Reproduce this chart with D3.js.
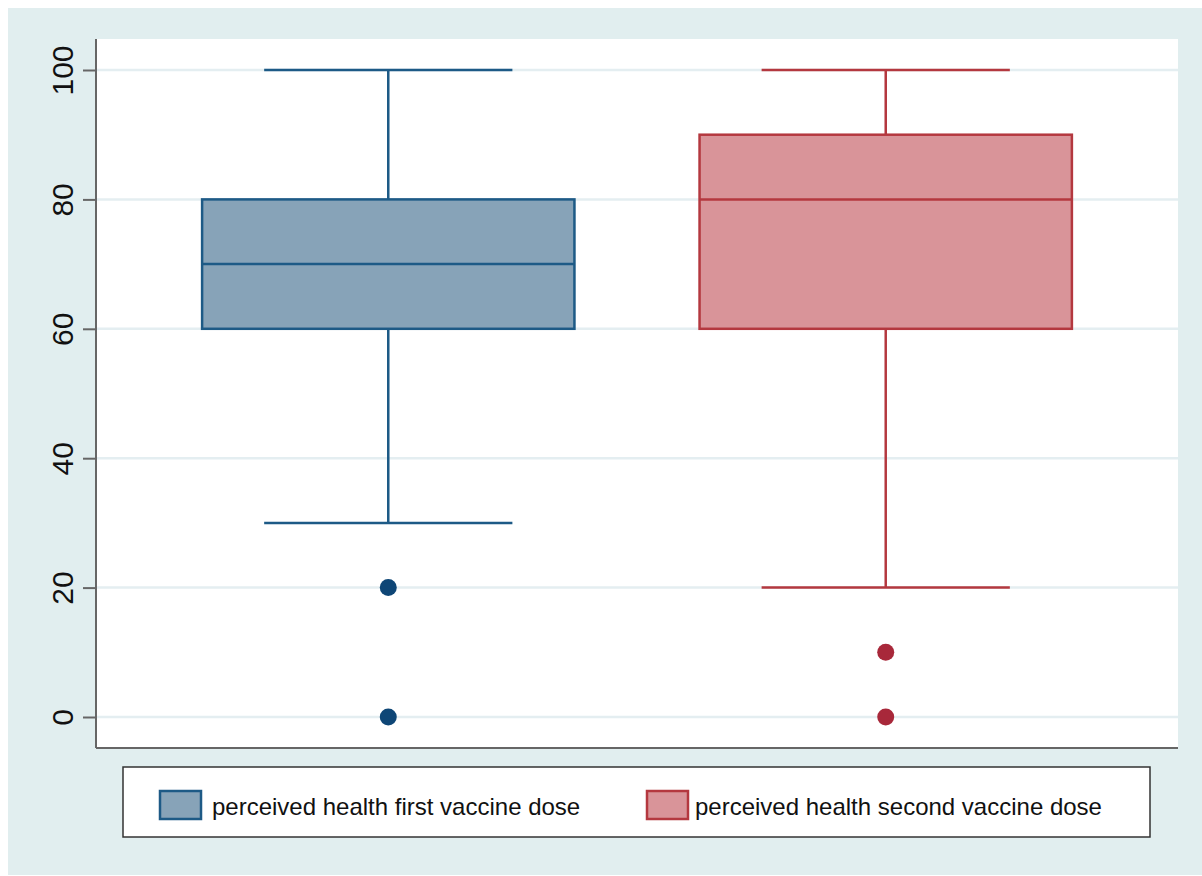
<!DOCTYPE html>
<html><head><meta charset="utf-8">
<script src="https://cdn.jsdelivr.net/npm/d3@7"></script>
<style>html,body{margin:0;padding:0;background:#fff;}svg{display:block;font-family:Arial,"Liberation Sans",sans-serif;}</style>
</head><body>
<svg id="c" width="1202" height="876"></svg>
<script>
const groups = ["perceived health first vaccine dose", "perceived health second vaccine dose"];
const lowerWhisker = [30, 20];
const q1 = [60, 60];
const median = [70, 80];
const q3 = [80, 90];
const upperWhisker = [100, 100];
const outliers = [[20, 0], [10, 0]];
const yTicks = [0, 20, 40, 60, 80, 100];

const fills = ["#87a3b8", "#d99499"];
const strokes = ["#1d5a86", "#b4383f"];
const dots = ["#0e4676", "#a8283a"];

const svg = d3.select("#c");
svg.append("rect").attr("x", 8).attr("y", 8).attr("width", 1194).attr("height", 867).attr("fill", "#e1eeef");

const plot = {l: 96, t: 39, r: 1178, b: 748};
svg.append("rect").attr("x", plot.l).attr("y", plot.t).attr("width", plot.r - plot.l).attr("height", plot.b - plot.t).attr("fill", "#fff");

const y = d3.scaleLinear().domain([0, 100]).range([717, 70]);
const x = d3.scaleBand().domain(groups).range([plot.l, plot.r]).paddingInner(0.2515).paddingOuter(0.2133);

// grid
svg.append("g").selectAll("line").data(yTicks).join("line")
  .attr("x1", plot.l).attr("x2", plot.r)
  .attr("y1", d => y(d)).attr("y2", d => y(d))
  .attr("stroke", "#e4eef1").attr("stroke-width", 2.5);

// axis
const yAxis = d3.axisLeft(y).tickValues(yTicks).tickSize(13);
const ag = svg.append("g").attr("transform", `translate(${plot.l},0)`).call(yAxis);
ag.select(".domain").remove();
ag.selectAll(".tick line").attr("stroke", "#666").attr("stroke-width", 2);
ag.selectAll(".tick text")
  .attr("font-size", 30).attr("fill", "#111").attr("font-family", "Arial, 'Liberation Sans', sans-serif")
  .attr("x", 0).attr("y", 0).attr("dy", 0)
  .attr("text-anchor", "middle")
  .attr("transform", "translate(-23,0) rotate(-90)");

// axis lines (left and bottom)
svg.append("line").attr("x1", plot.l).attr("x2", plot.l).attr("y1", plot.t).attr("y2", plot.b).attr("stroke", "#666").attr("stroke-width", 2);
svg.append("line").attr("x1", plot.l).attr("x2", plot.r).attr("y1", plot.b).attr("y2", plot.b).attr("stroke", "#666").attr("stroke-width", 2);

// boxes
groups.forEach((g, i) => {
  const bx = x(g), bw = x.bandwidth(), cx = bx + bw / 2, cap = bw / 3;
  const gg = svg.append("g");
  const sl = sel => sel.attr("stroke", strokes[i]).attr("stroke-width", 2.5);
  sl(gg.append("line").attr("x1", cx).attr("x2", cx).attr("y1", y(q3[i])).attr("y2", y(upperWhisker[i])));
  sl(gg.append("line").attr("x1", cx).attr("x2", cx).attr("y1", y(q1[i])).attr("y2", y(lowerWhisker[i])));
  sl(gg.append("line").attr("x1", cx - cap).attr("x2", cx + cap).attr("y1", y(upperWhisker[i])).attr("y2", y(upperWhisker[i])));
  sl(gg.append("line").attr("x1", cx - cap).attr("x2", cx + cap).attr("y1", y(lowerWhisker[i])).attr("y2", y(lowerWhisker[i])));
  sl(gg.append("rect").attr("x", bx).attr("width", bw).attr("y", y(q3[i])).attr("height", y(q1[i]) - y(q3[i])).attr("fill", fills[i]));
  sl(gg.append("line").attr("x1", bx).attr("x2", bx + bw).attr("y1", y(median[i])).attr("y2", y(median[i])));
  gg.selectAll("circle").data(outliers[i]).join("circle")
    .attr("cx", cx).attr("cy", d => y(d)).attr("r", 8.5).attr("fill", dots[i]);
});

// legend
const lg = svg.append("g");
lg.append("rect").attr("x", 123).attr("y", 767).attr("width", 1027).attr("height", 70).attr("fill", "#fff").attr("stroke", "#333").attr("stroke-width", 1.5);
const legX = [160, 647], legT = [212, 695];
groups.forEach((g, i) => {
  lg.append("rect").attr("x", legX[i]).attr("y", 791).attr("width", 41).attr("height", 28)
    .attr("fill", fills[i]).attr("stroke", strokes[i]).attr("stroke-width", 2.5);
  lg.append("text").attr("x", legT[i]).attr("y", 815).attr("font-size", 24).attr("fill", "#111").text(g);
});
</script>
</body></html>
